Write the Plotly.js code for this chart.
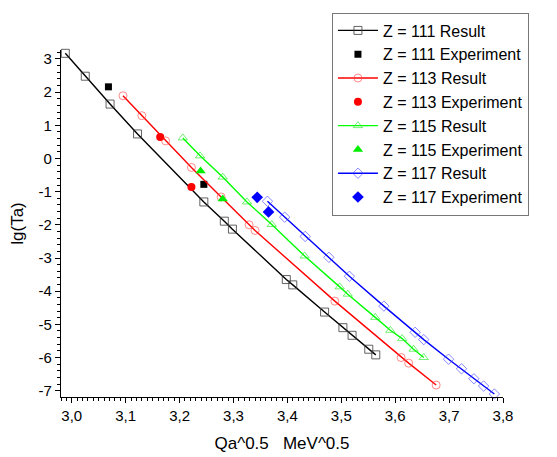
<!DOCTYPE html>
<html>
<head>
<meta charset="utf-8">
<script src="https://cdn.plot.ly/plotly-3.0.1.min.js"></script>
<style>html,body{margin:0;padding:0;background:#fff;}#chart{width:557px;height:457px;}</style>
</head>
<body>
<div id="chart"></div>
<script>
// Z = 111
const x111 = [2.988, 3.025, 3.071, 3.122, 3.245, 3.283, 3.298, 3.398, 3.410, 3.469, 3.503, 3.520, 3.551, 3.564];
const y111 = [3.17, 2.48, 1.64, 0.74, -1.31, -1.89, -2.13, -3.65, -3.81, -4.63, -5.10, -5.33, -5.75, -5.92];
const x111e = [3.068, 3.245];
const y111e = [2.16, -0.78];
// Z = 113
const x113 = [3.095, 3.130, 3.174, 3.222, 3.277, 3.329, 3.340, 3.488, 3.611, 3.625, 3.676];
const y113 = [1.89, 1.29, 0.53, -0.27, -1.16, -2.00, -2.17, -4.30, -6.00, -6.17, -6.83];
const x113e = [3.164, 3.222];
const y113e = [0.65, -0.86];
// Z = 115
const x115 = [3.206, 3.238, 3.280, 3.325, 3.371, 3.432, 3.497, 3.512, 3.563, 3.591, 3.613, 3.634, 3.653];
const y115 = [0.62, 0.08, -0.56, -1.31, -1.99, -2.94, -3.87, -4.09, -4.79, -5.18, -5.43, -5.75, -6.00];
const x115e = [3.239, 3.280];
const y115e = [-0.38, -1.22];
// Z = 117
const x117 = [3.363, 3.395, 3.433, 3.477, 3.515, 3.579, 3.637, 3.653, 3.699, 3.723, 3.746, 3.764, 3.784];
const y117 = [-1.29, -1.77, -2.35, -2.98, -3.55, -4.45, -5.24, -5.46, -6.05, -6.34, -6.64, -6.86, -7.10];
const x117e = [3.344, 3.365];
const y117e = [-1.17, -1.61];

const names = ["Z = 111 Result", "Z = 111 Experiment", "Z = 113 Result", "Z = 113 Experiment",
               "Z = 115 Result", "Z = 115 Experiment", "Z = 117 Result", "Z = 117 Experiment"];
const xTickVals = [3.0, 3.1, 3.2, 3.3, 3.4, 3.5, 3.6, 3.7, 3.8];
const xTickText = ["3,0", "3,1", "3,2", "3,3", "3,4", "3,5", "3,6", "3,7", "3,8"];
const yTickVals = [3, 2, 1, 0, -1, -2, -3, -4, -5, -6, -7];
const yTickText = ["3", "2", "1", "0", "-1", "-2", "-3", "-4", "-5", "-6", "-7"];

function res(x, y, name, lc, mc, sym) {
  return {x: x, y: y, name: name, type: 'scatter', mode: 'lines+markers', cliponaxis: false,
    line: {color: lc, width: 1.4},
    marker: {symbol: sym, size: 8, color: mc, line: {width: 1}}};
}
function exp(x, y, name, c, sym, sz) {
  return {x: x, y: y, name: name, type: 'scatter', mode: 'markers',
    marker: {symbol: sym, size: sz, color: c}};
}
const data = [
  res(x111, y111, names[0], '#000000', 'rgba(60,60,60,0.8)', 'square-open'),
  exp(x111e, y111e, names[1], '#000000', 'square', 7),
  res(x113, y113, names[2], '#ff0000', 'rgba(255,60,60,0.6)', 'circle-open'),
  exp(x113e, y113e, names[3], '#ff0000', 'circle', 8),
  res(x115, y115, names[4], '#00ff00', 'rgba(40,230,40,0.65)', 'triangle-up-open'),
  exp(x115e, y115e, names[5], '#00ee00', 'triangle-up', 9),
  res(x117, y117, names[6], '#0000ff', 'rgba(60,60,255,0.6)', 'diamond-open'),
  exp(x117e, y117e, names[7], '#0000ff', 'diamond', 9)
];
const font = {family: 'Arial, "Liberation Sans", sans-serif', color: '#000'};
const layout = {
  width: 557, height: 457,
  margin: {l: 61, r: 54, t: 42, b: 60},
  paper_bgcolor: '#fff', plot_bgcolor: '#fff',
  font: Object.assign({size: 15}, font),
  showlegend: true,
  legend: {x: 0.613, y: 1.108, xanchor: 'left', yanchor: 'top',
    bgcolor: '#fff', bordercolor: '#777', borderwidth: 1,
    font: Object.assign({size: 16}, font), tracegroupgap: 0, itemwidth: 40},
  xaxis: {range: [2.98, 3.80], showgrid: false, zeroline: false, showline: true,
    linecolor: '#000', linewidth: 1.2, ticks: 'outside', ticklen: 5, tickcolor: '#000',
    tickvals: xTickVals, ticktext: xTickText, tickfont: Object.assign({size: 15}, font),
    minor: {dtick: 0.01, ticklen: 3, ticks: 'outside', tickcolor: '#000', showgrid: false},
    title: {text: 'Qa^0.5   MeV^0.5', font: Object.assign({size: 17}, font), standoff: 13}},
  yaxis: {range: [-7.19, 3.27], showgrid: false, zeroline: false, showline: true,
    linecolor: '#000', linewidth: 1.2, ticks: 'outside', ticklen: 5, tickcolor: '#000',
    tickvals: yTickVals, ticktext: yTickText, tickfont: Object.assign({size: 15}, font),
    minor: {dtick: 0.2, ticklen: 3, ticks: 'outside', tickcolor: '#000', showgrid: false},
    title: {text: 'lg(Ta)', font: Object.assign({size: 17}, font), standoff: 10}}
};
Plotly.newPlot('chart', data, layout, {displayModeBar: false, staticPlot: true});
</script>
</body>
</html>
